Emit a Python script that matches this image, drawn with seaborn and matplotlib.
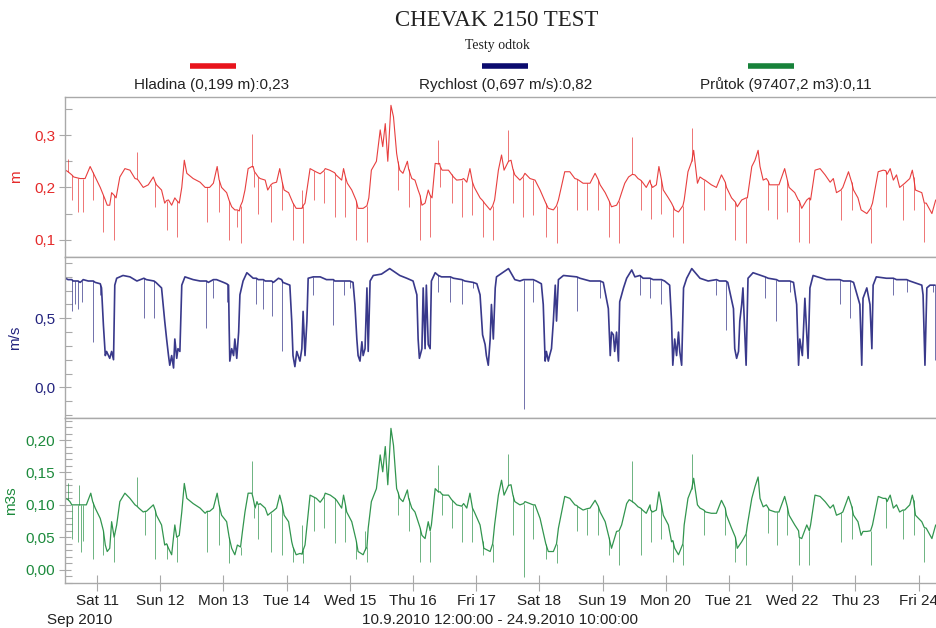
import numpy as np
import pandas as pd
import matplotlib
matplotlib.use("Agg")
import matplotlib.pyplot as plt
from matplotlib.ticker import MultipleLocator, FuncFormatter
from matplotlib.lines import Line2D
import seaborn as sns

# time is the decimal day of September 2010.
# *_day/*_val hold the main trace, *_spike_day/*_spike_tip the single-sample spikes.
level_day = [10.50, 10.54, 10.57, 10.60, 10.63, 10.70, 10.73, 10.77, 10.81, 10.89, 10.93, 10.97,
             11.05, 11.10, 11.13, 11.16, 11.20, 11.23, 11.27, 11.30, 11.36, 11.44, 11.52, 11.60, 11.63, 11.65, 11.73, 11.81, 11.89, 11.92, 11.94,
             12.02, 12.07, 12.10, 12.13, 12.18, 12.23, 12.26, 12.30, 12.34, 12.38, 12.42, 12.52, 12.63, 12.71, 12.74, 12.78, 12.84, 12.90, 12.93, 12.97,
             13.05, 13.09, 13.13, 13.18, 13.22, 13.25, 13.27, 13.30, 13.34, 13.39, 13.45, 13.47, 13.49, 13.51, 13.55, 13.58, 13.66, 13.70, 13.75, 13.78, 13.84, 13.89, 13.93, 13.96,
             14.03, 14.08, 14.10, 14.15, 14.21, 14.24, 14.26, 14.29, 14.37, 14.43, 14.46, 14.53, 14.59, 14.61, 14.68, 14.76, 14.78, 14.87, 14.90, 14.93, 14.96,
             15.03, 15.10, 15.13, 15.21, 15.27, 15.30, 15.34, 15.42, 15.48, 15.52, 15.56, 15.60, 15.65, 15.69, 15.74, 15.76, 15.79, 15.84, 15.91, 15.93, 15.98,
             16.03, 16.08, 16.11, 16.14, 16.19, 16.24, 16.27, 16.30, 16.35, 16.40, 16.42, 16.43, 16.46, 16.56, 16.61, 16.64, 16.69, 16.77, 16.80, 16.85, 16.90, 16.94, 16.97,
             17.06, 17.10, 17.13, 17.22, 17.26, 17.29, 17.35, 17.40, 17.44, 17.51, 17.55, 17.58, 17.61, 17.69, 17.74, 17.77, 17.85, 17.90, 17.93,
             18.01, 18.10, 18.14, 18.22, 18.27, 18.30, 18.40, 18.48, 18.56, 18.59, 18.62, 18.69, 18.75, 18.80, 18.88, 18.93, 18.96,
             19.04, 19.10, 19.14, 19.22, 19.26, 19.30, 19.35, 19.41, 19.47, 19.51, 19.56, 19.60, 19.63, 19.69, 19.75, 19.76, 19.79, 19.85, 19.89, 19.93, 19.96,
             20.04, 20.09, 20.11, 20.14, 20.20, 20.27, 20.29, 20.35, 20.41, 20.44, 20.50, 20.54, 20.60, 20.62, 20.72, 20.80, 20.88, 20.94, 20.96,
             21.04, 21.10, 21.13, 21.20, 21.27, 21.29, 21.36, 21.41, 21.46, 21.49, 21.54, 21.59, 21.62, 21.64, 21.73, 21.76, 21.79, 21.88, 21.92, 21.95,
             22.04, 22.10, 22.11, 22.15, 22.23, 22.27, 22.29, 22.36, 22.44, 22.52, 22.60, 22.65, 22.70, 22.77, 22.80, 22.89, 22.94, 22.97,
             23.04, 23.09, 23.18, 23.24, 23.27, 23.36, 23.44, 23.48, 23.50, 23.55, 23.60, 23.65, 23.70, 23.75, 23.78, 23.86, 23.90, 23.92, 23.95,
             24.05, 24.09, 24.12, 24.21, 24.27]
level_val = [.233, .230, .227, .224, .220, .218, .217, .217, .217, .240, .230, .220,
             .200, .185, .176, .166, .166, .190, .185, .180, .220, .236, .233, .217, .216, .214, .200, .205, .220, .210, .205,
             .195, .170, .175, .176, .166, .180, .175, .170, .200, .252, .227, .217, .210, .200, .200, .200, .208, .240, .215, .200,
             .190, .175, .163, .157, .157, .155, .165, .173, .195, .236, .240, .240, .230, .227, .220, .217, .214, .195, .205, .208, .210, .236, .210, .195,
             .190, .176, .170, .160, .160, .160, .165, .170, .236, .232, .230, .226, .232, .236, .233, .228, .224, .214, .236, .220, .208,
             .195, .175, .160, .160, .165, .180, .233, .250, .310, .278, .322, .250, .357, .335, .265, .250, .233, .227, .250, .235, .217,
             .214, .195, .185, .166, .170, .195, .185, .180, .246, .245, .246, .240, .233, .233, .225, .220, .214, .215, .217, .210, .236, .210, .200,
             .180, .175, .170, .157, .165, .176, .233, .262, .233, .250, .252, .235, .224, .214, .220, .227, .217, .215, .214,
             .195, .170, .160, .157, .165, .176, .230, .230, .217, .216, .214, .208, .208, .208, .227, .215, .205,
             .190, .175, .163, .166, .175, .190, .208, .220, .225, .224, .217, .214, .210, .200, .214, .207, .200, .205, .240, .215, .195,
             .180, .170, .165, .157, .153, .165, .176, .230, .250, .271, .208, .220, .215, .214, .205, .200, .224, .210, .200,
             .180, .172, .163, .176, .180, .180, .240, .252, .271, .240, .214, .217, .212, .205, .205, .205, .205, .236, .215, .200,
             .190, .175, .175, .160, .176, .180, .176, .233, .236, .224, .210, .217, .190, .195, .200, .230, .210, .195,
             .180, .157, .150, .160, .170, .230, .233, .232, .225, .236, .214, .224, .200, .205, .208, .217, .233, .220, .195,
             .190, .170, .170, .150, .176]
level_spike_day = [10.54, 10.60, 10.70, 10.77, 10.93, 11.10, 11.27, 11.63, 11.92, 12.10, 12.26, 12.74, 12.93,
                   13.09, 13.22, 13.27, 13.45, 13.49, 13.55, 13.75, 13.93, 14.10, 14.24, 14.26, 14.43, 14.59, 14.76, 14.93,
                   15.10, 15.27, 15.76, 15.93, 16.11, 16.27, 16.40, 16.43, 16.61, 16.77, 16.94, 17.10, 17.26, 17.51, 17.58,
                   17.74, 17.90, 18.10, 18.27, 18.59, 18.75, 18.93, 19.10, 19.26, 19.47, 19.60, 19.76, 19.93, 20.11, 20.27,
                   20.41, 20.60, 20.94, 21.10, 21.27, 21.62, 21.76, 21.92, 22.11, 22.27, 22.77, 22.94, 23.24, 23.48, 23.75,
                   23.92, 24.09]
level_spike_tip = [.255, .176, .153, .153, .176, .115, .100, .268, .163, .118, .105, .134, .153,
                   .100, .125, .093, .303, .200, .150, .134, .157, .100, .195, .093, .176, .170, .144, .144,
                   .100, .096, .195, .163, .100, .105, .290, .200, .170, .144, .147, .105, .100, .310, .170,
                   .144, .147, .105, .093, .157, .157, .157, .105, .093, .297, .157, .140, .150, .105, .093,
                   .313, .157, .157, .100, .093, .157, .140, .153, .096, .093, .137, .157, .093, .163, .137,
                   .157, .096]

speed_day = [10.50, 10.54, 10.60, 10.62, 10.65, 10.68, 10.70, 10.73, 10.76, 10.78, 10.86, 10.94, 10.97,
             11.05, 11.07, 11.10, 11.13, 11.15, 11.18, 11.20, 11.23, 11.26, 11.28, 11.31, 11.41, 11.52, 11.63, 11.74, 11.78, 11.90, 11.93,
             12.02, 12.07, 12.10, 12.13, 12.15, 12.18, 12.21, 12.23, 12.26, 12.28, 12.31, 12.34, 12.39, 12.52, 12.63, 12.73, 12.76, 12.84, 12.89,
             13.00, 13.05, 13.08, 13.09, 13.10, 13.13, 13.16, 13.18, 13.21, 13.24, 13.26, 13.31, 13.37, 13.47, 13.52, 13.55, 13.63, 13.66, 13.76, 13.79, 13.87, 13.92, 13.94,
             14.05, 14.08, 14.10, 14.13, 14.16, 14.21, 14.24, 14.26, 14.29, 14.32, 14.34, 14.42, 14.44, 14.53, 14.63, 14.74, 14.76, 14.90, 14.95,
             15.00, 15.05, 15.08, 15.11, 15.13, 15.16, 15.19, 15.21, 15.24, 15.27, 15.29, 15.32, 15.37, 15.50, 15.63, 15.79, 15.90,
             16.00, 16.06, 16.08, 16.10, 16.14, 16.16, 16.19, 16.21, 16.24, 16.27, 16.29, 16.35, 16.40, 16.45, 16.59, 16.64, 16.77, 16.82, 16.95,
             17.01, 17.06, 17.10, 17.14, 17.16, 17.19, 17.22, 17.24, 17.27, 17.30, 17.32, 17.51, 17.61, 17.69, 17.75, 17.79, 17.90, 17.95,
             18.03, 18.06, 18.09, 18.11, 18.14, 18.16, 18.19, 18.22, 18.25, 18.27, 18.30, 18.38, 18.59, 18.64, 18.80, 18.96,
             19.01, 19.09, 19.12, 19.14, 19.17, 19.19, 19.22, 19.25, 19.27, 19.33, 19.38, 19.46, 19.51, 19.59, 19.64, 19.75, 19.80, 19.93, 19.98,
             20.06, 20.09, 20.11, 20.14, 20.17, 20.20, 20.22, 20.25, 20.28, 20.33, 20.41, 20.54, 20.67, 20.80, 20.85, 20.95, 20.98,
             21.07, 21.09, 21.12, 21.15, 21.17, 21.20, 21.22, 21.27, 21.30, 21.38, 21.57, 21.62, 21.75, 21.79, 21.96,
             22.02, 22.07, 22.10, 22.12, 22.16, 22.20, 22.25, 22.28, 22.33, 22.54, 22.75, 22.81, 22.92, 22.97,
             23.07, 23.10, 23.12, 23.18, 23.23, 23.26, 23.28, 23.33, 23.49, 23.60, 23.65, 23.81, 23.86,
             24.05, 24.07, 24.10, 24.13, 24.18, 24.23, 24.26]
speed_val = [.79, .78, .78, .77, .77, .77, .77, .76, .77, .78, .77, .77, .76,
             .75, .72, .45, .23, .26, .23, .21, .26, .20, .74, .79, .81, .80, .77, .79, .78, .77, .76,
             .72, .48, .35, .23, .16, .23, .14, .35, .21, .28, .26, .74, .80, .78, .77, .77, .76, .78, .78,
             .76, .75, .74, .43, .19, .28, .23, .35, .21, .40, .67, .77, .83, .79, .79, .78, .78, .77, .77, .76, .79, .78, .76,
             .74, .48, .23, .15, .26, .19, .28, .55, .23, .48, .79, .80, .80, .80, .78, .78, .77, .77, .77,
             .77, .76, .60, .35, .23, .19, .33, .23, .28, .72, .26, .77, .81, .82, .86, .81, .79,
             .77, .67, .35, .21, .28, .72, .28, .74, .31, .28, .77, .83, .81, .80, .80, .79, .78, .77, .76,
             .75, .67, .38, .31, .23, .16, .35, .60, .35, .72, .80, .86, .78, .77, .78, .78, .78, .77,
             .75, .60, .19, .26, .19, .23, .28, .48, .74, .48, .78, .81, .80, .79, .77, .77,
             .76, .57, .23, .40, .38, .26, .40, .19, .62, .72, .79, .85, .80, .81, .79, .79, .78, .78, .77,
             .74, .48, .16, .35, .23, .40, .26, .16, .72, .79, .86, .79, .77, .78, .77, .77, .76,
             .57, .28, .21, .26, .48, .60, .72, .16, .79, .83, .80, .79, .78, .77, .77,
             .76, .60, .16, .35, .23, .645, .21, .72, .81, .78, .78, .77, .77, .76,
             .60, .16, .645, .72, .60, .28, .74, .80, .79, .79, .78, .78, .77,
             .74, .67, .16, .72, .74, .74, .74]
speed_spike_day = [10.60, 10.65, 10.70, 10.76, 10.94, 11.05, 11.74, 11.90, 12.73, 12.84, 13.05, 13.52, 13.63,
                   13.76, 13.92, 14.42, 14.74, 14.90, 15.00, 16.40, 16.59, 16.77, 16.95, 17.75, 17.90, 18.59, 18.96,
                   19.59, 19.75, 19.93, 20.80, 20.95, 21.57, 21.75, 21.96, 22.75, 22.92, 23.60, 23.81, 24.23, 24.26]
speed_spike_tip = [.55, .60, .57, .62, .33, .67, .50, .50, .43, .65, .62, .60, .57,
                   .52, .26, .67, .45, .67, .72, .69, .62, .60, .72, -.16, .62, .55, .645,
                   .67, .645, .60, .67, .415, .645, .48, .69, .60, .50, .67, .69, .69, .20]

flow_day = [10.50, 10.54, 10.57, 10.60, 10.63, 10.70, 10.72, 10.75, 10.78, 10.83, 10.90, 10.93, 10.97,
            11.05, 11.10, 11.13, 11.16, 11.20, 11.23, 11.27, 11.31, 11.36, 11.44, 11.52, 11.60, 11.63, 11.66, 11.73, 11.76, 11.78, 11.89, 11.92, 11.94,
            12.02, 12.07, 12.10, 12.13, 12.18, 12.23, 12.26, 12.30, 12.34, 12.38, 12.42, 12.52, 12.63, 12.71, 12.74, 12.78, 12.84, 12.90, 12.93, 12.97,
            13.05, 13.09, 13.13, 13.18, 13.22, 13.27, 13.30, 13.34, 13.39, 13.45, 13.47, 13.50, 13.53, 13.55, 13.58, 13.66, 13.70, 13.75, 13.78, 13.84, 13.89, 13.93, 13.96,
            14.03, 14.08, 14.10, 14.15, 14.21, 14.24, 14.26, 14.29, 14.37, 14.43, 14.47, 14.53, 14.59, 14.61, 14.69, 14.76, 14.79, 14.87, 14.90, 14.93, 14.95,
            15.03, 15.10, 15.13, 15.21, 15.24, 15.27, 15.29, 15.34, 15.42, 15.48, 15.52, 15.56, 15.60, 15.65, 15.69, 15.74, 15.76, 15.79, 15.84, 15.91, 15.93, 15.98,
            16.03, 16.08, 16.11, 16.14, 16.19, 16.24, 16.27, 16.29, 16.35, 16.40, 16.43, 16.45, 16.48, 16.56, 16.61, 16.64, 16.69, 16.77, 16.80, 16.85, 16.90, 16.94, 16.97,
            17.06, 17.10, 17.12, 17.22, 17.26, 17.29, 17.35, 17.40, 17.44, 17.51, 17.55, 17.58, 17.61, 17.69, 17.75, 17.77, 17.85, 17.90, 17.93,
            18.01, 18.10, 18.14, 18.22, 18.27, 18.30, 18.40, 18.48, 18.56, 18.59, 18.61, 18.69, 18.75, 18.80, 18.88, 18.93, 18.96,
            19.04, 19.10, 19.14, 19.22, 19.26, 19.30, 19.38, 19.42, 19.47, 19.51, 19.56, 19.60, 19.63, 19.69, 19.75, 19.76, 19.79, 19.85, 19.89, 19.93, 19.96,
            20.04, 20.09, 20.11, 20.14, 20.20, 20.27, 20.29, 20.35, 20.41, 20.44, 20.50, 20.54, 20.60, 20.63, 20.72, 20.80, 20.88, 20.94, 20.96,
            21.04, 21.10, 21.13, 21.20, 21.27, 21.29, 21.36, 21.41, 21.46, 21.49, 21.54, 21.59, 21.62, 21.64, 21.73, 21.76, 21.79, 21.88, 21.92, 21.95,
            22.04, 22.10, 22.11, 22.15, 22.23, 22.27, 22.29, 22.36, 22.44, 22.52, 22.60, 22.65, 22.70, 22.77, 22.80, 22.89, 22.94, 22.97,
            23.04, 23.09, 23.12, 23.18, 23.24, 23.27, 23.36, 23.44, 23.48, 23.50, 23.55, 23.60, 23.65, 23.70, 23.75, 23.78, 23.86, 23.90, 23.92, 23.95,
            24.05, 24.09, 24.12, 24.21, 24.27]
flow_val = [.110, .108, .105, .100, .100, .100, .100, .100, .100, .100, .118, .105, .095,
            .079, .060, .038, .028, .033, .074, .050, .069, .105, .118, .110, .100, .098, .095, .089, .090, .090, .100, .092, .084,
            .069, .038, .040, .033, .023, .069, .050, .053, .089, .133, .110, .102, .095, .087, .090, .090, .095, .118, .100, .084,
            .074, .050, .033, .023, .038, .035, .059, .089, .118, .118, .110, .095, .105, .100, .102, .095, .084, .088, .090, .095, .115, .100, .084,
            .074, .043, .035, .023, .025, .024, .030, .038, .115, .112, .110, .104, .112, .118, .115, .110, .107, .095, .115, .100, .089,
            .074, .045, .028, .023, .030, .035, .064, .105, .125, .177, .151, .190, .131, .218, .192, .125, .120, .110, .105, .123, .110, .095,
            .089, .074, .065, .053, .048, .074, .060, .069, .125, .120, .120, .117, .115, .115, .108, .105, .100, .098, .102, .095, .118, .095, .089,
            .069, .045, .033, .028, .040, .069, .115, .138, .115, .130, .131, .115, .105, .100, .102, .105, .102, .100, .100,
            .079, .040, .028, .028, .040, .064, .113, .110, .100, .099, .097, .092, .094, .095, .107, .098, .089,
            .074, .050, .033, .059, .060, .069, .102, .108, .105, .102, .097, .095, .092, .087, .100, .092, .089, .092, .120, .100, .084,
            .069, .043, .045, .033, .023, .040, .069, .110, .125, .141, .100, .095, .092, .089, .087, .087, .107, .095, .084,
            .064, .050, .033, .043, .055, .069, .110, .128, .143, .110, .097, .100, .095, .092, .089, .089, .089, .113, .098, .084,
            .069, .060, .050, .048, .069, .060, .069, .115, .113, .105, .095, .100, .084, .087, .089, .113, .098, .084,
            .074, .053, .059, .059, .060, .069, .113, .110, .110, .105, .115, .095, .100, .089, .092, .092, .100, .115, .107, .084,
            .074, .065, .064, .048, .069]
flow_spike_day = [10.54, 10.60, 10.70, 10.72, 10.75, 10.77, 10.93, 11.10, 11.27, 11.63, 11.76, 11.92, 12.10,
                  12.26, 12.74, 12.93, 13.09, 13.27, 13.45, 13.49, 13.55, 13.75, 13.93, 14.10, 14.24, 14.26,
                  14.43, 14.59, 14.76, 14.93, 15.10, 15.24, 15.27, 15.76, 15.93, 16.11, 16.27, 16.40, 16.45,
                  16.61, 16.77, 16.94, 17.10, 17.26, 17.51, 17.58, 17.75, 17.90, 18.10, 18.27, 18.59, 18.75,
                  18.93, 19.10, 19.26, 19.47, 19.60, 19.76, 19.93, 20.11, 20.27, 20.41, 20.60, 20.94, 21.10,
                  21.27, 21.62, 21.76, 21.92, 22.11, 22.27, 22.77, 22.94, 23.24, 23.48, 23.75, 23.92, 24.09]
flow_spike_tip = [.133, .048, .043, .131, .028, .045, .017, .023, .012, .143, .053, .017, .017,
                  .012, .028, .038, .010, .023, .167, .080, .048, .028, .023, .012, .069, .010,
                  .059, .064, .041, .043, .017, .059, .012, .084, .059, .012, .012, .161, .084,
                  .064, .043, .043, .023, .012, .179, .053, -.011, .048, .017, .010, .059, .053,
                  .053, .023, .007, .167, .023, .043, .048, .012, .007, .179, .053, .053, .012,
                  .007, .056, .038, .053, .007, .007, .043, .048, .007, .064, .048, .053, .012]

tick_days = list(range(11, 25))
legend_labels = ["Hladina (0,199 m):0,23", "Rychlost (0,697 m/s):0,82", "Průtok (97407,2 m3):0,11"]


def to_time(days):
    return pd.Timestamp("2010-09-01") + pd.to_timedelta(np.asarray(days, dtype=float) - 1, unit="D")


sns.set_style("white")
plt.rcParams["font.family"] = ["Liberation Sans", "DejaVu Sans"]

RED, NAVY, GREEN = "#e52a2a", "#23237e", "#1c8a3c"
GRID = "#a9a9a9"

fig = plt.figure(figsize=(9.37, 6.28), dpi=100)
left, width = 0.0699, 0.9386
ax1 = fig.add_axes([left, 0.5908, width, 0.2548])
ax2 = fig.add_axes([left, 0.3344, width, 0.2564])
ax3 = fig.add_axes([left, 0.0712, width, 0.2632])

panels = [
    (ax1, level_day, level_val, level_spike_day, level_spike_tip, RED, 0.8, "m", (0.067, 0.373), 0.1, 0.05, 1, -0.048),
    (ax2, speed_day, speed_val, speed_spike_day, speed_spike_tip, NAVY, 1.2, "m/s", (-0.222, 0.944), 0.5, 0.1, 1, -0.049),
    (ax3, flow_day, flow_val, flow_spike_day, flow_spike_tip, GREEN, 0.9, "m3s", (-0.021, 0.234), 0.05, 0.01, 2, -0.054),
]
x0, x1 = to_time([10.5])[0], to_time([24 + 10 / 24])[0]

for ax, days, vals, sdays, stips, col, lw, lab, ylim, major, minor, dec, lx in panels:
    sns.lineplot(x=to_time(days), y=vals, ax=ax, color=col, lw=lw, alpha=0.9)
    # spikes start from the trace value nearest in time
    base_day = np.asarray(days)
    roots = [vals[int(np.argmin(np.abs(base_day - d)))] for d in sdays]
    ax.vlines(to_time(sdays).to_pydatetime(), roots, stips, color=col, lw=0.7, alpha=0.65)
    ax.set_xlim(x0, x1)
    ax.set_ylim(*ylim)
    ax.yaxis.set_major_locator(MultipleLocator(major))
    ax.yaxis.set_minor_locator(MultipleLocator(minor))
    ax.yaxis.set_major_formatter(FuncFormatter(lambda v, p, d=dec: f"{v:.{d}f}".replace(".", ",").replace("-0,0", "0,0")))
    ax.tick_params(axis="y", which="major", direction="inout", length=8, width=0.8,
                   color=GRID, labelcolor=col, labelsize=11, left=True)
    ax.tick_params(axis="y", which="minor", direction="in", length=5, width=0.8, color=GRID, left=True)
    ax.set_ylabel(lab, color=col, fontsize=11)
    ax.yaxis.set_label_coords(lx, 0.5)
    ax.set_xlabel("")
    for s in ["top", "bottom", "left"]:
        ax.spines[s].set_color(GRID)
        ax.spines[s].set_linewidth(1.0)
    ax.spines["right"].set_visible(False)
    ax.set_facecolor("white")

for ax in (ax1, ax2):
    ax.tick_params(axis="x", bottom=False, labelbottom=False)

ticks = to_time(tick_days)
ax3.set_xticks(ticks)
ax3.set_xticklabels([f"{t:%a} {t.day}" for t in ticks])
ax3.tick_params(axis="x", direction="inout", length=12, width=0.8, color=GRID,
                labelsize=11, labelcolor="#222222", pad=2, bottom=True)

fig.text(80 / 937, 1 - 620 / 628, "Sep 2010", ha="center", va="center", fontsize=11, color="#222222")
fig.text(500 / 937, 1 - 620 / 628, "10.9.2010 12:00:00 - 24.9.2010 10:00:00",
         ha="center", va="center", fontsize=11, color="#222222")

fig.text(0.5305, 1 - 20 / 628, "CHEVAK 2150 TEST", ha="center", va="center",
         fontsize=16.5, family="Liberation Serif", color="#222222")
fig.text(0.5305, 1 - 45 / 628, "Testy odtok", ha="center", va="center",
         fontsize=10, family="Liberation Serif", color="#222222")

for (bx0, bx1, tx), col, text in zip([(190, 236, 212), (482, 528, 506), (748, 794, 786)],
                                     ["#e8141c", "#0b0b6e", "#17823a"], legend_labels):
    fig.add_artist(Line2D([bx0 / 937, bx1 / 937], [1 - 66 / 628] * 2, transform=fig.transFigure,
                          color=col, lw=4, solid_capstyle="butt"))
    fig.text(tx / 937, 1 - 85 / 628, text, ha="center", va="center", fontsize=11, color="#222222")

fig.savefig("out.png", dpi=100)
